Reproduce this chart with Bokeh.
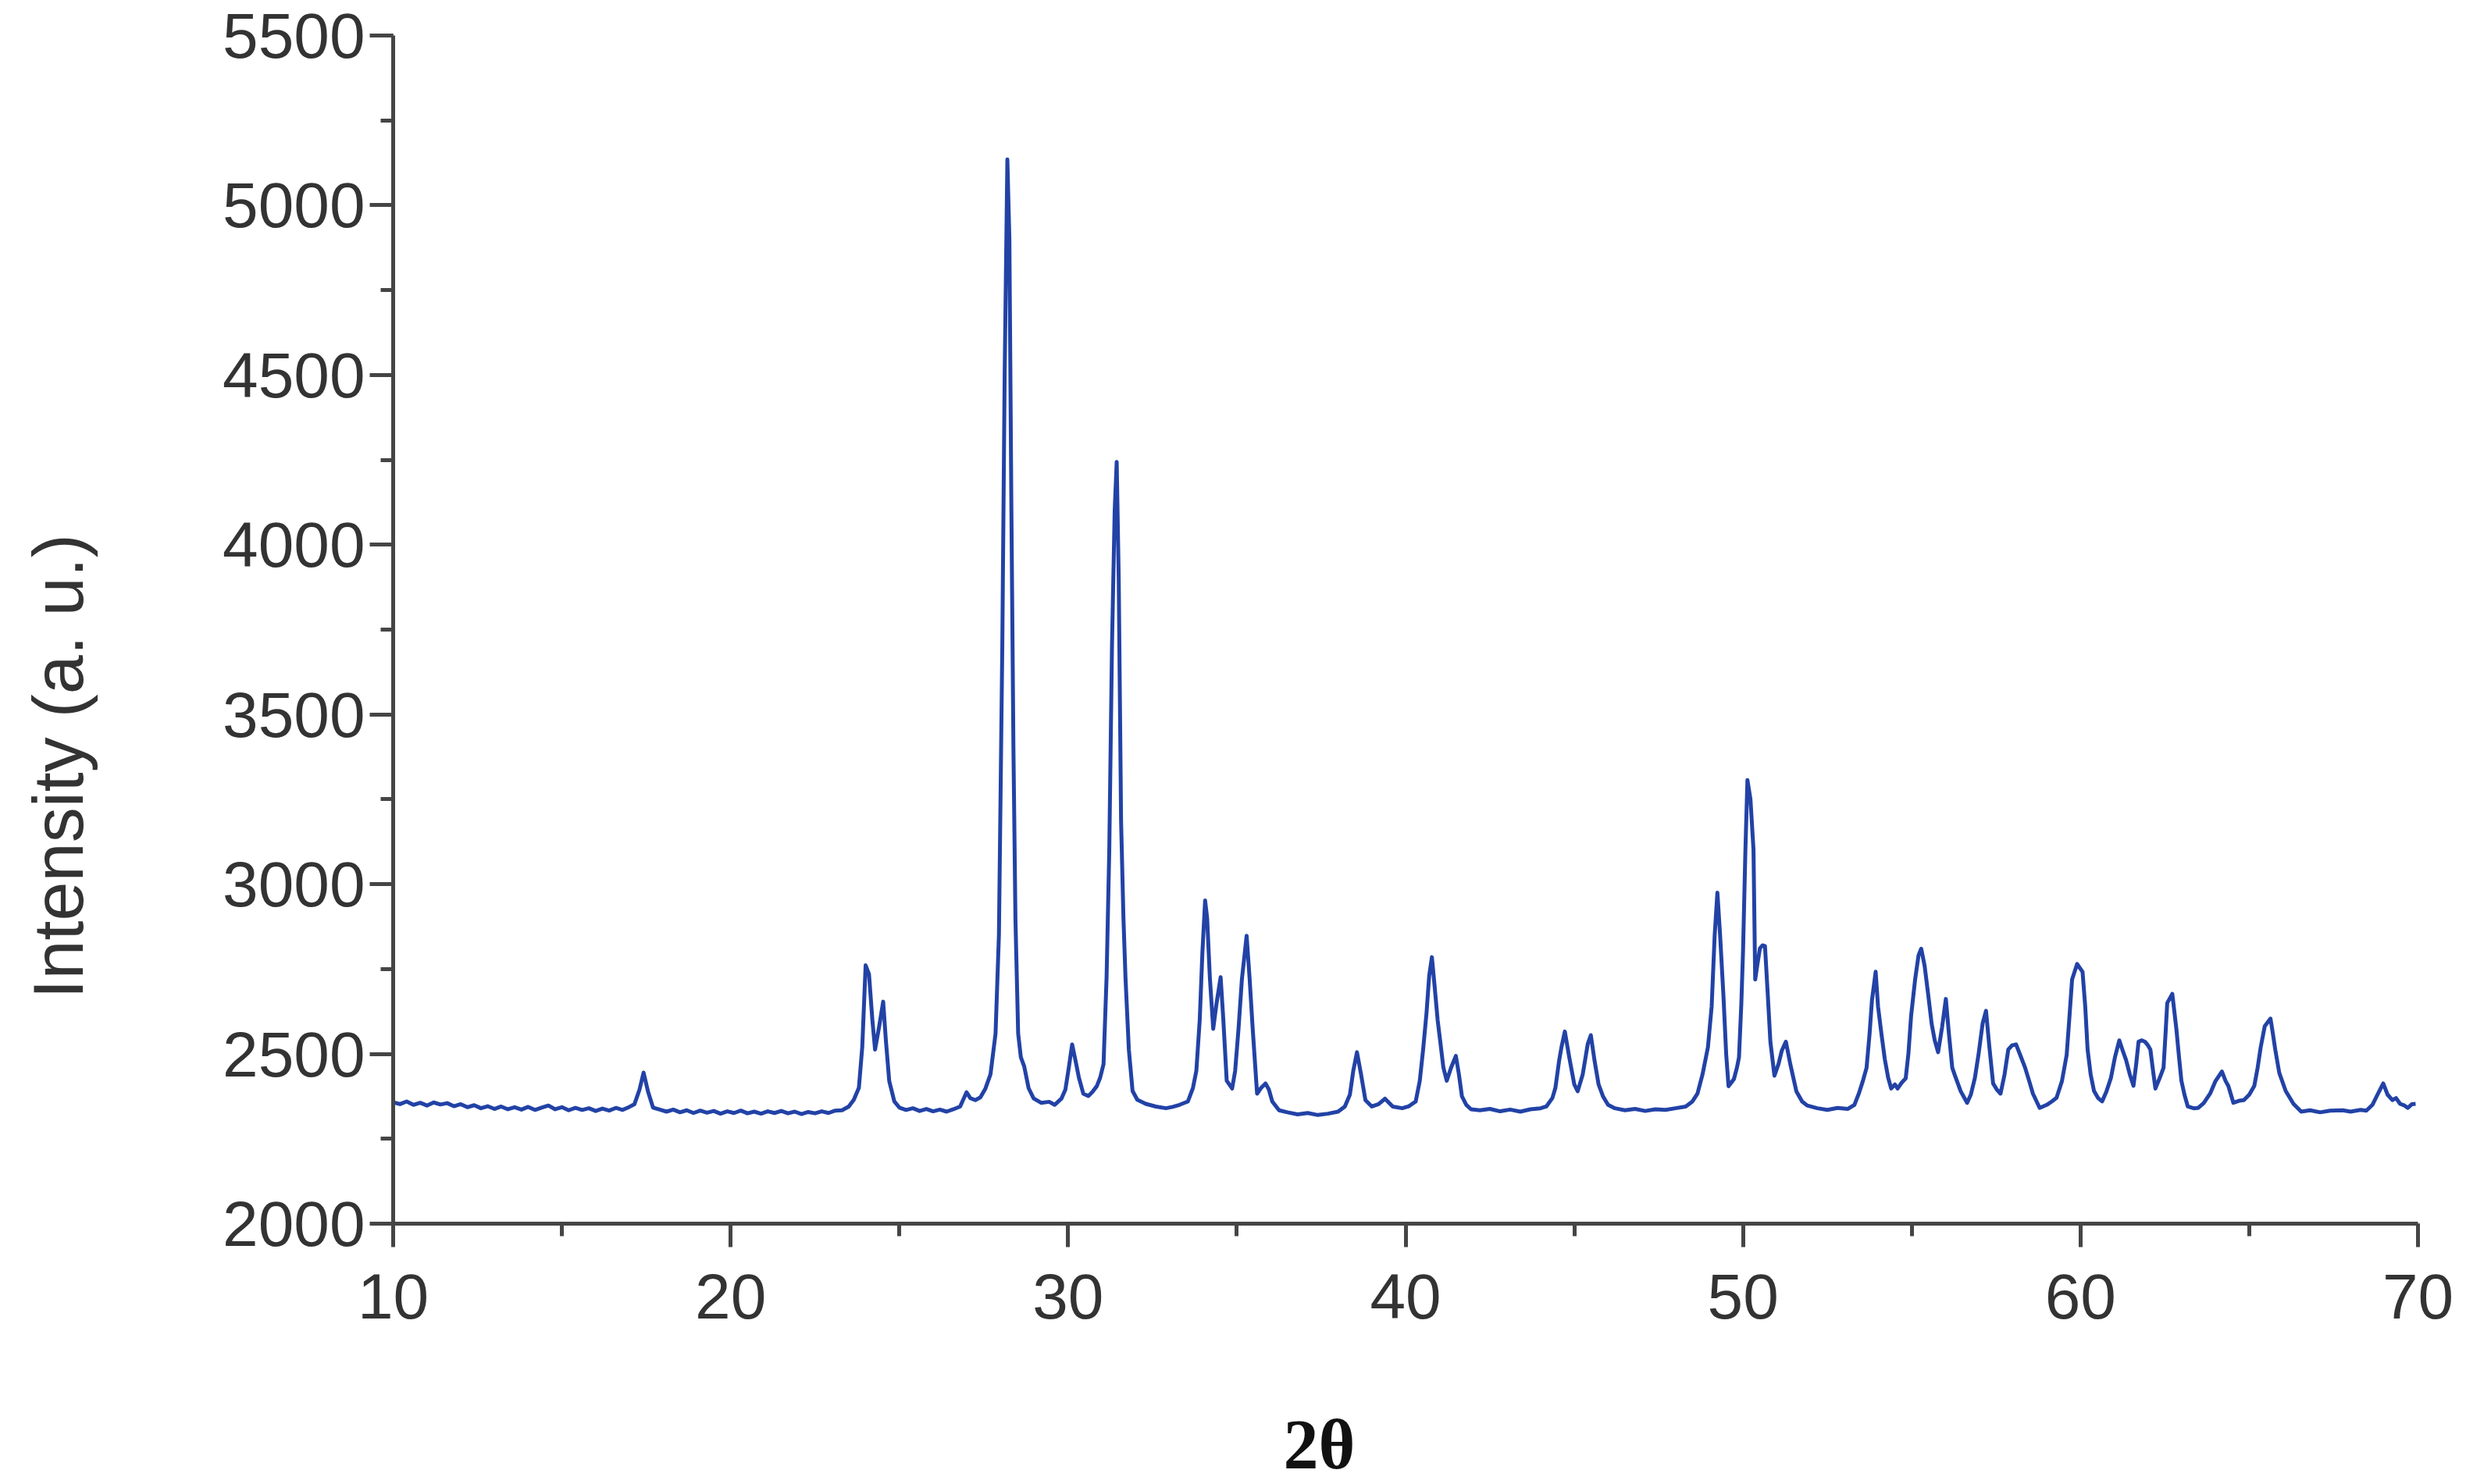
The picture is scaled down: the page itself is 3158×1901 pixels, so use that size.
from bokeh.plotting import figure
from bokeh.models import Range1d, SingleIntervalTicker, LinearAxis, FixedTicker, Title
from bokeh.embed import file_html
from bokeh.resources import INLINE

# --- data (2theta in degrees, intensity in a.u.) ---
two_theta = [
    10.0, 10.2, 10.4, 10.6, 10.8, 11.0, 11.2, 11.4, 11.6, 11.8, 12.0, 12.2, 12.4, 12.6, 12.8,
    13.0, 13.2, 13.4, 13.6, 13.8, 14.0, 14.2, 14.4, 14.6, 14.8, 15.0, 15.2, 15.4, 15.6, 15.8,
    16.0, 16.2, 16.4, 16.6, 16.8, 17.0, 17.15, 17.3, 17.42, 17.55, 17.7, 17.9, 18.1, 18.3,
    18.5, 18.7, 18.9, 19.1, 19.3, 19.5, 19.7, 19.9, 20.1, 20.3, 20.5, 20.7, 20.9, 21.1, 21.3,
    21.5, 21.7, 21.9, 22.1, 22.3, 22.5, 22.7, 22.9, 23.1, 23.3, 23.5, 23.65, 23.8, 23.9, 24.0,
    24.1, 24.2, 24.28, 24.4, 24.52, 24.6, 24.7, 24.85, 25.0, 25.2, 25.4, 25.6, 25.8, 26.0,
    26.2, 26.4, 26.6, 26.8, 26.99, 27.1, 27.25, 27.4, 27.55, 27.7, 27.85, 27.95, 28.05, 28.12,
    28.2, 28.26, 28.32, 28.38, 28.44, 28.52, 28.6, 28.7, 28.83, 28.98, 29.2, 29.44, 29.6, 29.8,
    29.92, 30.02, 30.12, 30.22, 30.32, 30.45, 30.6, 30.72, 30.85, 30.95, 31.05, 31.14, 31.22,
    31.3, 31.38, 31.44, 31.5, 31.57, 31.64, 31.7, 31.8, 31.91, 32.05, 32.3, 32.6, 32.9, 33.1,
    33.3, 33.55, 33.7, 33.8, 33.9, 33.98, 34.06, 34.12, 34.2, 34.3, 34.4, 34.52, 34.6, 34.7,
    34.86, 34.95, 35.05, 35.15, 35.29, 35.38, 35.47, 35.6, 35.72, 35.85, 35.95, 36.05, 36.25,
    36.5, 36.8, 37.1, 37.4, 37.7, 38.0, 38.2, 38.35, 38.45, 38.56, 38.68, 38.81, 39.0, 39.2,
    39.39, 39.62, 39.9, 40.1, 40.3, 40.42, 40.52, 40.62, 40.7, 40.78, 40.86, 40.95, 41.02,
    41.12, 41.22, 41.35, 41.49, 41.58, 41.67, 41.8, 41.94, 42.2, 42.5, 42.8, 43.1, 43.4, 43.7,
    44.0, 44.17, 44.35, 44.44, 44.55, 44.62, 44.72, 44.85, 45.0, 45.1, 45.25, 45.4, 45.49,
    45.6, 45.72, 45.85, 46.0, 46.2, 46.5, 46.8, 47.1, 47.4, 47.7, 48.0, 48.3, 48.5, 48.65,
    48.8, 48.96, 49.07, 49.16, 49.24, 49.32, 49.42, 49.5, 49.57, 49.65, 49.73, 49.82, 49.88,
    49.95, 50.0, 50.07, 50.13, 50.22, 50.31, 50.36, 50.42, 50.5, 50.58, 50.65, 50.73, 50.81,
    50.93, 51.05, 51.15, 51.27, 51.4, 51.58, 51.75, 51.9, 52.2, 52.5, 52.8, 53.1, 53.3, 53.43,
    53.55, 53.66, 53.75, 53.82, 53.93, 54.0, 54.1, 54.2, 54.3, 54.39, 54.5, 54.58, 54.7,
    54.82, 54.9, 54.98, 55.1, 55.2, 55.28, 55.38, 55.48, 55.59, 55.68, 55.78, 55.9, 56.01,
    56.1, 56.2, 56.28, 56.45, 56.64, 56.75, 56.87, 56.98, 57.1, 57.2, 57.3, 57.41, 57.52,
    57.63, 57.75, 57.86, 57.97, 58.09, 58.22, 58.36, 58.48, 58.59, 58.79, 59.0, 59.15, 59.29,
    59.45, 59.59, 59.68, 59.75, 59.9, 60.06, 60.14, 60.21, 60.3, 60.4, 60.52, 60.64, 60.77,
    60.9, 61.02, 61.15, 61.25, 61.35, 61.46, 61.57, 61.65, 61.72, 61.82, 61.91, 62.0, 62.07,
    62.15, 62.22, 62.35, 62.46, 62.52, 62.57, 62.72, 62.84, 62.92, 62.99, 63.08, 63.18, 63.35,
    63.49, 63.65, 63.84, 64.0, 64.19, 64.3, 64.38, 64.53, 64.7, 64.84, 65.0, 65.15, 65.25,
    65.34, 65.46, 65.63, 65.7, 65.77, 65.89, 66.08, 66.31, 66.54, 66.8, 67.1, 67.4, 67.77,
    68.0, 68.3, 68.47, 68.65, 68.8, 68.97, 69.1, 69.24, 69.35, 69.47, 69.6, 69.7, 69.82, 69.93,
]
intensity = [
    2358, 2352, 2360, 2350, 2356, 2348, 2357, 2351, 2355, 2346, 2352, 2343, 2349, 2340, 2346,
    2338, 2345, 2337, 2343, 2336, 2344, 2335, 2342, 2348, 2337, 2343, 2334, 2341, 2335, 2340,
    2332, 2339, 2333, 2341, 2335, 2344, 2352, 2395, 2445, 2390, 2342, 2336, 2330, 2336,
    2328, 2334, 2326, 2333, 2327, 2332, 2324, 2331, 2326, 2333, 2325, 2330, 2324, 2331, 2326,
    2332, 2325, 2330, 2323, 2329, 2325, 2331, 2326, 2333, 2334, 2345, 2365, 2400, 2520, 2761,
    2735, 2600, 2513, 2580, 2654, 2540, 2420, 2360, 2342, 2335, 2340, 2332, 2338, 2331,
    2336, 2330, 2337, 2345, 2387, 2370, 2364, 2372, 2398, 2440, 2560, 2850, 3700, 4500,
    5135, 4900, 4100, 3400, 2894, 2560, 2490, 2463, 2399, 2369, 2356, 2359, 2350, 2368,
    2395, 2459, 2528, 2480, 2430, 2383, 2376, 2388, 2405, 2430, 2470, 2726, 3100,
    3700, 4100, 4244, 3900, 3185, 2900, 2726, 2513, 2391, 2365, 2353, 2345, 2340, 2344,
    2350, 2360, 2400, 2450, 2600, 2800, 2952, 2900, 2726, 2574, 2650, 2726, 2600, 2421,
    2398, 2450, 2574, 2720, 2848, 2720, 2574, 2383, 2400, 2413, 2395, 2360, 2334,
    2328, 2322, 2326, 2320, 2324, 2330, 2345, 2380, 2450, 2505, 2440, 2364, 2345, 2352,
    2368, 2345, 2340, 2346, 2360, 2420, 2513, 2620, 2730, 2785, 2700, 2600, 2543,
    2460, 2421, 2460, 2494, 2440, 2375, 2350, 2337, 2334, 2338, 2331, 2336, 2330, 2337,
    2340, 2345, 2370, 2400, 2480, 2520, 2566, 2490, 2410, 2390, 2440, 2530, 2555,
    2480, 2410, 2375, 2350, 2340, 2334, 2338, 2332, 2337, 2335, 2340, 2345, 2360, 2383,
    2440, 2520, 2640, 2850, 2975, 2850, 2670, 2500, 2405, 2415, 2426, 2460, 2490,
    2650, 2803, 3100, 3307, 3250, 3101, 2719, 2760, 2811, 2820, 2818, 2680, 2536,
    2436, 2470, 2510, 2536, 2470, 2390, 2360, 2348, 2340, 2335, 2341, 2338, 2350, 2383,
    2420, 2459, 2560, 2658, 2742, 2640, 2560, 2485, 2430, 2398, 2410, 2398, 2415,
    2428, 2500, 2612, 2720, 2790, 2810, 2760, 2680, 2588, 2540, 2505, 2580, 2662,
    2560, 2459, 2436, 2390, 2356, 2380, 2429, 2500, 2590, 2627, 2520, 2413, 2395,
    2383, 2440, 2513, 2525, 2528, 2495, 2459, 2420, 2383, 2341, 2350, 2360, 2371,
    2420, 2497, 2620, 2719, 2765, 2742, 2640, 2513, 2440, 2391, 2370, 2360, 2390,
    2429, 2490, 2540, 2510, 2482, 2440, 2406, 2470, 2536, 2540, 2536, 2525, 2513,
    2450, 2398, 2430, 2459, 2560, 2650, 2677, 2574, 2490, 2421, 2380, 2345, 2340,
    2341, 2355, 2383, 2420, 2448, 2420, 2406, 2356, 2362, 2364, 2380, 2406, 2460,
    2520, 2582, 2604, 2560, 2513, 2444, 2391, 2353, 2330, 2334, 2328, 2333, 2334,
    2330, 2335, 2333, 2350, 2380, 2413, 2380, 2364, 2370, 2353, 2348, 2341, 2352, 2353,
]

x_range = (10, 70)
y_range = (2000, 5500)
x_tick_step = 10
y_tick_step = 500

x_title = "2θ"
y_title = "Intensity (a. u.)"

AXIS = "#454545"
TEXT = "#333333"

p = figure(
    width=3150, height=1880,
    frame_width=2593, frame_height=1522,
    min_border_left=503, min_border_top=45, min_border_right=54, min_border_bottom=300,
    x_range=Range1d(*x_range), y_range=Range1d(*y_range),
    output_backend="svg", toolbar_location=None,
)
p.outline_line_color = None
p.background_fill_color = "white"
p.border_fill_color = "white"
p.xgrid.visible = False
p.ygrid.visible = False

p.line(two_theta, intensity, line_color="#2242a6", line_width=5, line_join="round")

p.xaxis.ticker = SingleIntervalTicker(interval=x_tick_step, num_minor_ticks=2)
p.yaxis.ticker = SingleIntervalTicker(interval=y_tick_step, num_minor_ticks=2)

for ax in (p.xaxis[0], p.yaxis[0]):
    ax.axis_line_color = AXIS
    ax.axis_line_width = 5
    ax.major_tick_line_color = AXIS
    ax.major_tick_line_width = 5
    ax.minor_tick_line_color = AXIS
    ax.minor_tick_line_width = 5
    ax.major_tick_in = 0
    ax.major_tick_out = 30
    ax.minor_tick_in = 0
    ax.minor_tick_out = 16
    ax.major_label_text_font = "Liberation Sans"
    ax.major_label_text_font_size = "82px"
    ax.major_label_text_color = TEXT

p.yaxis.major_label_standoff = 6
p.xaxis.major_label_standoff = 34


def spacer_axis(standoff):
    """An empty axis (no line, ticks or visible text) that only reserves space."""
    return LinearAxis(
        ticker=FixedTicker(ticks=[]),
        axis_line_color=None, major_tick_line_color=None, minor_tick_line_color=None,
        major_tick_out=0, minor_tick_out=0, major_tick_in=0, minor_tick_in=0,
        major_label_standoff=0,
        axis_label=" ", axis_label_standoff=standoff,
        axis_label_text_font_size="10px",
    )


# Titles sit off-centre in the reference: spacer + Title with offset
p.add_layout(spacer_axis(93), "below")
p.add_layout(Title(
    text=x_title, align="left", offset=1140, standoff=0,
    text_font="Liberation Serif", text_font_style="bold", text_font_size="90px",
    text_color="#111111",
), "below")

p.add_layout(spacer_axis(144), "left")
p.add_layout(Title(
    text=y_title, align="left", offset=288, standoff=0,
    text_font="Liberation Sans", text_font_style="normal", text_font_size="90px",
    text_color=TEXT,
), "left")

open("out.html", "w").write(file_html(p, INLINE))
